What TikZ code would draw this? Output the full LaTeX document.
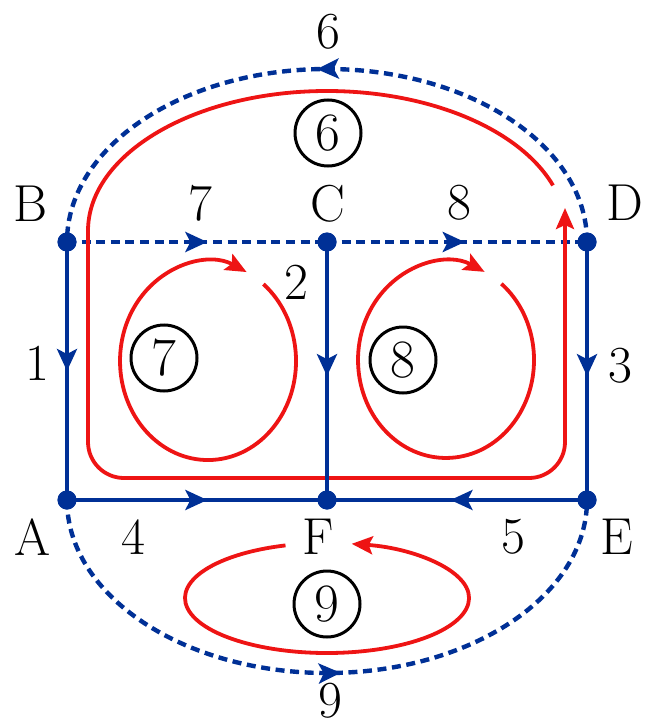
\documentclass[tikz,border=0pt]{standalone}
\usepackage{fontspec}
\setmainfont{Latin Modern Roman}
\usetikzlibrary{arrows.meta,decorations.markings}
\definecolor{eblue}{RGB}{0,48,150}
\definecolor{lred}{RGB}{238,20,20}
\begin{document}
\begin{tikzpicture}[x=0.5pt,y=-0.5pt,
  font=\fontsize{26}{31}\selectfont,
  dot/.style={circle,fill=eblue,inner sep=0pt,minimum size=9.5pt},
  eline/.style={draw=eblue,line width=2pt},
  dline/.style={draw=eblue,line width=2.2pt,dash pattern=on 4.5pt off 2.8pt},
  midarrow/.style={postaction={decorate},decoration={markings,mark=at position #1 with {\arrow[eblue]{Stealth[length=11pt,width=10pt,inset=2.5pt]}}}},
  loopline/.style={draw=lred,line width=1.9pt},
  redtip/.style={-{Stealth[length=10.5pt,width=9pt,inset=2pt]}},
  cnum/.style={circle,draw=black,line width=1.5pt,minimum size=33pt,inner sep=0pt,font=\fontsize{27}{32}\selectfont},
  lbl/.style={inner sep=0pt}
]
\useasboundingbox (0,0) rectangle (655,727);

% junctions
\node[dot] (B) at (67,242) {};
\node[dot] (C) at (327,242) {};
\node[dot] (D) at (587,242) {};
\node[dot] (A) at (67,500) {};
\node[dot] (F) at (327,500) {};
\node[dot] (E) at (587,500) {};

% dashed branches
\draw[dline,midarrow=0.54] (B.center) -- (C.center);
\draw[dline,midarrow=0.53] (C.center) -- (D.center);
\draw[dline,midarrow=0.515] (D.center) arc[start angle=0,end angle=-180,x radius=260,y radius=173];
\draw[dline,midarrow=0.52] (A.center) arc[start angle=180,end angle=0,x radius=260,y radius=173];

% red loops
\draw[loopline] (88,231) arc[start angle=180,end angle=341,x radius=239,y radius=140];
\draw[loopline,redtip,rounded corners=18pt] (88,230) -- (88,478) -- (565,478) -- (565,208);
\draw[loopline,redtip] (263.4,284.1) arc[start angle=-51,end angle=296,x radius=88,y radius=99];
\draw[loopline,redtip] (501.4,283.8) arc[start angle=-51,end angle=296,x radius=88,y radius=98];
\draw[loopline,redtip] (285.5,545.4) arc[start angle=253,end angle=-80,x radius=142,y radius=55];

% solid branches
\draw[eline,midarrow=0.5] (B.center) -- (A.center);
\draw[eline,midarrow=0.52] (C.center) -- (F.center);
\draw[eline,midarrow=0.52] (D.center) -- (E.center);
\draw[eline,midarrow=0.54] (A.center) -- (F.center);
\draw[eline,midarrow=0.525] (E.center) -- (F.center);

% junction dots on top
\foreach \n in {A,B,C,D,E,F} \fill[eblue] (\n) circle[radius=4.75pt];

% loop numbers
\node[cnum] (n6) at (328,133) {6};
\node[cnum] (n7) at (164,358) {7};
\node[cnum] (n8) at (403,360) {8};
\node[cnum] (n9) at (327,604) {9};

% labels
\node[lbl] (l6) at (328,32) {6};
\node[lbl] (lB) at (31,204) {B};
\node[lbl] (l7) at (200,203) {7};
\node[lbl] (lC) at (328,204) {C};
\node[lbl] (l8) at (459,203) {8};
\node[lbl] (lD) at (625,203) {D};
\node[lbl] (l2) at (296,282) {2};
\node[lbl] (l1) at (37,363) {1};
\node[lbl] (l3) at (620,366) {3};
\node[lbl] (lA) at (33,537) {A};
\node[lbl] (l4) at (133,537) {4};
\node[lbl] (lF) at (318,537) {F};
\node[lbl] (l5) at (513,537) {5};
\node[lbl] (lE) at (617,537) {E};
\node[lbl] (l9) at (330,701) {9};
\end{tikzpicture}
\end{document}
